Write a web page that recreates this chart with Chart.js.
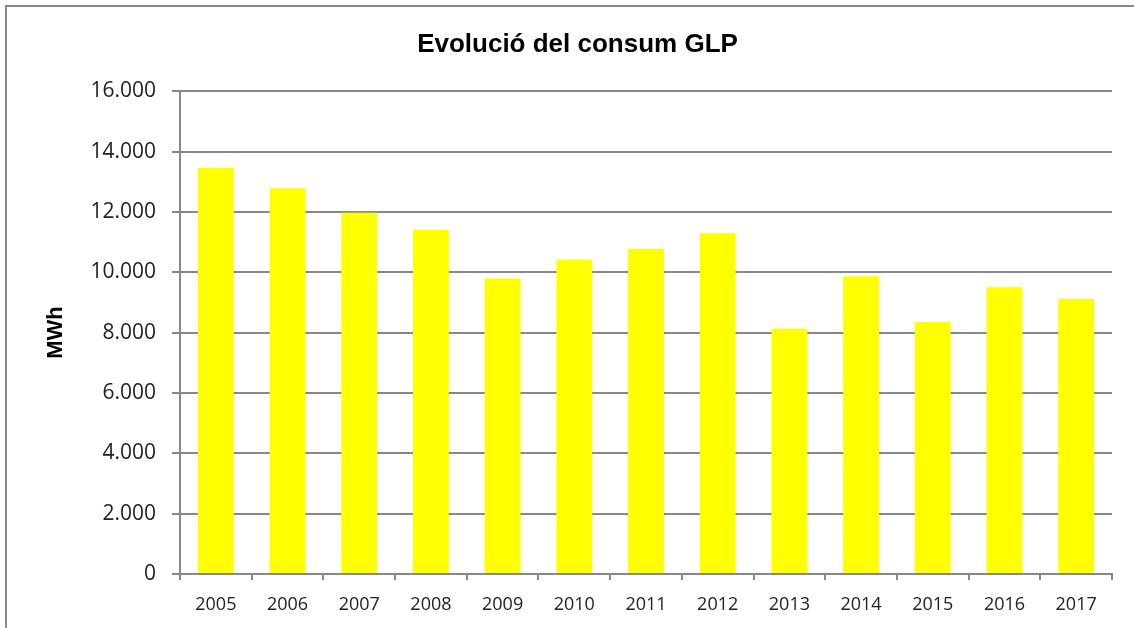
<!DOCTYPE html>
<html>
<head>
<meta charset="utf-8">
<script src="https://cdn.jsdelivr.net/npm/chart.js@4/dist/chart.umd.min.js"></script>
<style>
  html, body { margin: 0; padding: 0; background: #ffffff; overflow: hidden; }
  #wrap { position: relative; width: 1134px; height: 628px; }
  #frame {
    position: absolute; left: 5px; top: 5px; width: 1140px; height: 640px;
    border: 2px solid #888888; box-sizing: border-box;
  }
  canvas { position: absolute; left: 0; top: 0; }
</style>
</head>
<body>
<div id="wrap">
  <div id="frame"></div>
  <canvas id="chart" width="1134" height="628"></canvas>
</div>
<script>
// dades llegides del gràfic
const years = ['2005', '2006', '2007', '2008', '2009', '2010', '2011', '2012', '2013', '2014', '2015', '2016', '2017']
const consumMWh = [13460, 12780, 11970, 11410, 9790, 10420, 10770, 11290, 8130, 9870, 8350, 9500, 9110]

const gridGrey = '#888888'
const tickFont = "'Open Sans', 'Liberation Sans', sans-serif"
const titleFont = "'Liberation Sans', Arial, sans-serif"

const formatThousands = (v) => {
  return String(v).replace(/\B(?=(\d{3})+(?!\d))/g, '.')
}

const ctx = document.getElementById('chart').getContext('2d')
const chart = new Chart(ctx, {
  type: 'bar',
  data: {
    labels: years,
    datasets: [
      {
        label: 'MWh',
        data: consumMWh,
        backgroundColor: '#ffff00',
        borderWidth: 0,
        barPercentage: 0.5,
        categoryPercentage: 1.0,
      }
    ]
  },
  options: {
    responsive: false,
    animation: false,
    layout: {
      padding: { left: 43, right: 22, top: 21, bottom: 0 }
    },
    scales: {
      y: {
        min: 0,
        max: 16000,
        ticks: {
          stepSize: 2000,
          color: '#222222',
          padding: 16,
          font: { family: tickFont, size: 21 },
          callback: function(value) {
            return formatThousands(value)
          }
        },
        grid: {
          color: gridGrey,
          lineWidth: 2,
          tickLength: 8,
        },
        border: { color: gridGrey, width: 2 },
        title: {
          display: true,
          text: 'MWh',
          color: '#000000',
          font: { family: titleFont, size: 22, weight: 'bold' },
          padding: 0,
        },
        afterFit: function(scale) {
          scale.width = 137
        }
      },
      x: {
        offset: true,
        ticks: {
          color: '#222222',
          padding: 14,
          font: { family: tickFont, size: 18 },
        },
        grid: {
          offset: true,
          drawOnChartArea: false,
          color: gridGrey,
          lineWidth: 2,
          tickLength: 6,
        },
        border: { color: gridGrey, width: 2 },
        afterFit: function(scale) {
          scale.height = 54
        }
      }
    },
    plugins: {
      legend: { display: false },
      tooltip: { enabled: false },
      title: {
        display: true,
        text: 'Evolució del consum GLP',
        color: '#000000',
        font: { family: titleFont, size: 26, weight: 'bold' },
        padding: { top: 8, bottom: 31 },
      }
    }
  }
})
</script>
</body>
</html>
